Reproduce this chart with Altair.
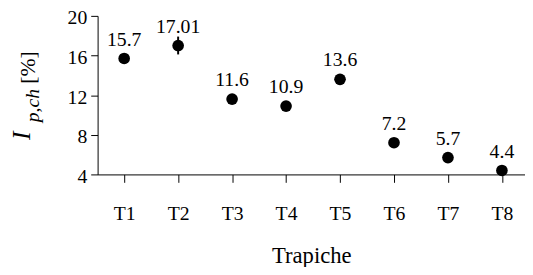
import altair as alt
import pandas as pd

trapiches = ["T1", "T2", "T3", "T4", "T5", "T6", "T7", "T8"]
values = [15.7, 17.01, 11.6, 10.9, 13.6, 7.2, 5.7, 4.4]
labels = ["15.7", "17.01", "11.6", "10.9", "13.6", "7.2", "5.7", "4.4"]
errors = [0.4, 0.9, 0.4, 0.4, 0.4, 0.4, 0.4, 0.3]
y_ticks = [4, 6, 8, 10, 12, 14, 16, 18, 20]

df = pd.DataFrame({"t": trapiches, "v": values, "lab": labels, "e": errors})
df["lo"] = df["v"] - df["e"]
df["hi"] = df["v"] + df["e"]

FONT = "Liberation Serif"

xs = alt.X("t:N", sort=trapiches,
           scale=alt.Scale(type="point", padding=0.46, align=0.535),
           axis=alt.Axis(title="Trapiche", labelAngle=0, labelFontSize=20, labelFont=FONT,
                         labelColor="black", tickColor="black", domainColor="black",
                         tickSize=8, labelPadding=22, titleFont=FONT, titleFontSize=23,
                         titleFontWeight="normal", titleColor="black", titlePadding=21,
                         grid=False))
yscale = alt.Scale(domain=[4, 20], nice=False, zero=False)
ys = alt.Y("v:Q", scale=yscale,
           axis=alt.Axis(title=None, values=y_ticks,
                         labelExpr="datum.value % 4 == 0 ? datum.label : ''",
                         labelFontSize=20, labelFont=FONT, labelColor="black",
                         tickColor="black", domainColor="black", tickSize=7,
                         labelPadding=4, labelOffset=2, grid=False))

base = alt.Chart(df)
pts = base.mark_circle(size=140, color="black", opacity=1).encode(x=xs, y=ys)
err = base.mark_rule(color="black", strokeWidth=2).encode(
    x=alt.X("t:N", sort=trapiches), y=alt.Y("lo:Q", title=None), y2="hi:Q")
txt = base.mark_text(font=FONT, fontSize=20, dy=-19, color="black").encode(
    x=alt.X("t:N", sort=trapiches), y=alt.Y("v:Q", title=None), text="lab:N")

one = pd.DataFrame({"a": [0]})
t_I = alt.Chart(one).mark_text(text="I", font=FONT, fontStyle="italic", fontSize=26, angle=270,
                               align="left", baseline="alphabetic", color="black").encode(
    x=alt.value(-69), y=alt.value(126))
t_sub = alt.Chart(one).mark_text(text="p,ch", font=FONT, fontStyle="italic", fontSize=20, angle=270,
                                 align="left", baseline="alphabetic", color="black").encode(
    x=alt.value(-60), y=alt.value(108))
t_pc = alt.Chart(one).mark_text(text="[%]", font=FONT, fontSize=22, angle=270,
                                align="left", baseline="alphabetic", color="black").encode(
    x=alt.value(-64), y=alt.value(69))

chart = alt.layer(pts, err, txt, t_I, t_sub, t_pc).properties(
    width=434, height=161,
    autosize=alt.AutoSizeParams(type="none"),
    padding={"left": 91, "top": 6, "right": 0, "bottom": 92},
).configure(background="white").configure_view(stroke=None)

chart.save("out.html", embed_options={"renderer": "svg", "actions": False})
